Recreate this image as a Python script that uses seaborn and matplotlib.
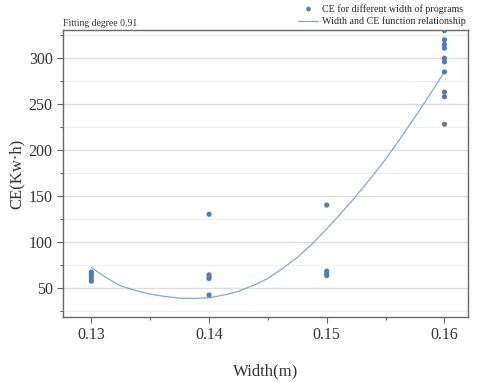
import numpy as np
import pandas as pd
import matplotlib
matplotlib.use("Agg")
import matplotlib.pyplot as plt
import seaborn as sns
from matplotlib.ticker import MultipleLocator

# scatter data
width_013 = [0.13] * 5
ce_013 = [57, 60, 63, 65, 67]
width_014 = [0.14] * 5
ce_014 = [130, 64, 62, 60, 42]
width_015 = [0.15] * 4
ce_015 = [140, 68, 65, 63]
width_016 = [0.16] * 10
ce_016 = [330, 320, 315, 311, 300, 296, 285, 263, 258, 228]

# fitted curve, read at sample widths
fit_width = [0.13, 0.13125, 0.1325, 0.13375, 0.135, 0.13625, 0.1375,
             0.13875, 0.14, 0.14125, 0.1425, 0.14375, 0.145, 0.14625,
             0.1475, 0.14875, 0.15, 0.15125, 0.1525, 0.15375, 0.155,
             0.15625, 0.1575, 0.15875, 0.16]
fit_ce = [72, 61, 52, 47, 43, 40.5, 38.5, 38.3, 39, 42, 46, 52.5, 60, 71,
          83, 97.5, 114, 131.5, 150, 169.5, 190, 212.5, 236, 260, 285]

df = pd.DataFrame({
    "width": width_013 + width_014 + width_015 + width_016,
    "ce": ce_013 + ce_014 + ce_015 + ce_016,
})
fit = pd.DataFrame({"width": fit_width, "ce": fit_ce})

sns.set_style("white")
plt.rcParams["font.family"] = ["Liberation Serif", "DejaVu Serif"]

fig = plt.figure(figsize=(4.78, 3.82), dpi=100)
ax = fig.add_axes([0.132, 0.170, 0.847, 0.751])

sns.scatterplot(data=df, x="width", y="ce", ax=ax, color="#4a7dbd",
                s=14, edgecolor="none", zorder=3,
                label="CE for different width of programs")
sns.lineplot(data=fit, x="width", y="ce", ax=ax, color="#7ea8d8",
             linewidth=0.9, zorder=2,
             label="Width and CE function relationship")

ax.set_xlim(0.1276, 0.1620)
ax.set_ylim(18, 330.5)
ax.set_xticks([0.13, 0.14, 0.15, 0.16])
ax.set_xticklabels(["0.13", "0.14", "0.15", "0.16"])
ax.xaxis.set_minor_locator(MultipleLocator(0.005))
ax.yaxis.set_major_locator(MultipleLocator(50))
ax.yaxis.set_minor_locator(MultipleLocator(25))

ax.grid(True, which="major", axis="y", color="#dcdcdc", linewidth=1.0)
ax.grid(True, which="minor", axis="y", color="#efefef", linewidth=0.8)
ax.set_axisbelow(True)

for sp in ax.spines.values():
    sp.set_color("#666666")
    sp.set_linewidth(1.0)

ax.tick_params(which="major", direction="out", length=4, width=0.8,
               color="#666666", labelsize=11.5, labelcolor="#333333",
               bottom=True, left=True)
ax.tick_params(which="minor", direction="out", length=2.5, width=0.8,
               color="#666666", bottom=True, left=True)

ax.set_xlabel("Width(m)", fontsize=12, color="#333333", labelpad=14)
ax.set_ylabel("CE(Kw·h)", fontsize=12, color="#333333", labelpad=3)

fig.text(0.132, 0.932, "Fitting degree 0.91", fontsize=7, color="#333333")

ax.legend(loc="upper right", bbox_to_anchor=(0.99, 1.008),
          bbox_transform=fig.transFigure, frameon=False, fontsize=7.2,
          handlelength=2.0, handletextpad=0.4, labelspacing=0.3,
          borderpad=0.2, markerscale=0.9)

fig.savefig("out.png", dpi=100)
